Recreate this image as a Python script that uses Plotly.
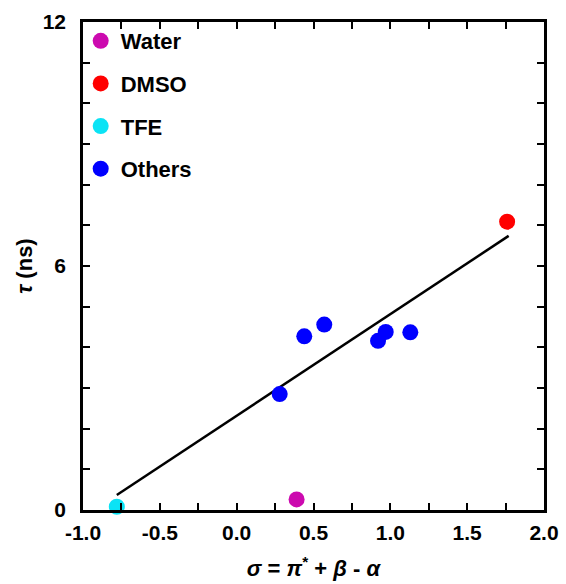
import plotly.graph_objects as go

# data
water_x = [0.39]
water_y = [0.26]
dmso_x = [1.76]
dmso_y = [7.09]
tfe_x = [-0.78]
tfe_y = [0.08]
others_x = [0.28, 0.44, 0.57, 0.92, 0.97, 1.13]
others_y = [2.85, 4.27, 4.56, 4.16, 4.38, 4.37]
fit_x = [-0.78, 1.77]
fit_y = [0.37, 6.74]
x_tickvals = [-1.0, -0.5, 0.0, 0.5, 1.0, 1.5, 2.0]
x_ticktext = ["-1.0", "-0.5", "0.0", "0.5", "1.0", "1.5", "2.0"]

FONT = "Liberation Sans, Arial, sans-serif"

fig = go.Figure()
fig.add_trace(go.Scatter(x=fit_x, y=fit_y, mode="lines", line=dict(color="black", width=2.5),
                         showlegend=False, hoverinfo="skip"))
series = [
    ("Water", water_x, water_y, "#CC0AAF"),
    ("DMSO", dmso_x, dmso_y, "#FF0000"),
    ("TFE", tfe_x, tfe_y, "#0BE3F5"),
    ("Others", others_x, others_y, "#0000FF"),
]
for name, xs, ys, col in series:
    fig.add_trace(go.Scatter(x=xs, y=ys, mode="markers", name=name, legendgroup=name,
                             marker=dict(color=col, size=16, line=dict(width=0)),
                             cliponaxis=False))

axis_common = dict(showline=True, linecolor="black", linewidth=2.5, mirror="ticks",
                   ticks="inside", ticklen=7, tickwidth=2, tickcolor="black",
                   showgrid=False, zeroline=False, automargin=False,
                   tickfont=dict(family=FONT, size=21, color="black", weight="bold"))

fig.update_xaxes(range=[-1, 2], tickvals=x_tickvals, ticktext=x_ticktext,
                 minor=dict(dtick=0.25, ticks="inside", ticklen=7, tickwidth=2, tickcolor="black"),
                 ticklabelstandoff=2,
                 title=dict(text="<b><i>σ</i> = <i>π</i><sup>*</sup> + <i>β</i> - <i>α</i></b>",
                            font=dict(family=FONT, size=22, color="black"), standoff=18),
                 **axis_common)
fig.update_yaxes(range=[0, 12], dtick=6, tick0=0,
                 minor=dict(dtick=1, ticks="inside", ticklen=7, tickwidth=2, tickcolor="black"),
                 ticklabelstandoff=10,
                 title=dict(text="<b><i>τ</i> (ns)</b>",
                            font=dict(family=FONT, size=22, color="black"), standoff=4),
                 **axis_common)

fig.update_layout(
    width=566, height=584,
    margin=dict(l=83, r=22, t=22, b=74),
    plot_bgcolor="white", paper_bgcolor="white",
    legend=dict(x=-0.005, y=1.004, xanchor="left", yanchor="top", bgcolor="rgba(0,0,0,0)",
                font=dict(family=FONT, size=22, color="black", weight="bold"),
                tracegroupgap=11, itemwidth=30),
)
fig.write_html("out.html")
